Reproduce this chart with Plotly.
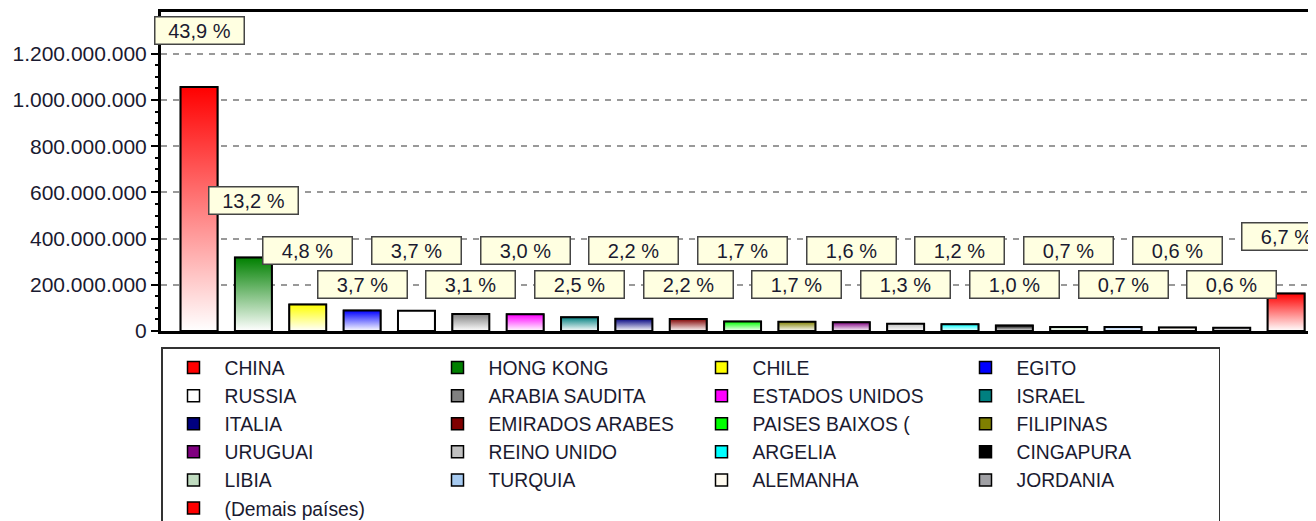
import plotly.graph_objects as go

# ---------------- data ----------------
countries = ["CHINA", "HONG KONG", "CHILE", "EGITO", "RUSSIA", "ARABIA SAUDITA",
             "ESTADOS UNIDOS", "ISRAEL", "ITALIA", "EMIRADOS ARABES", "PAISES BAIXOS (",
             "FILIPINAS", "URUGUAI", "REINO UNIDO", "ARGELIA", "CINGAPURA", "LIBIA",
             "TURQUIA", "ALEMANHA", "JORDANIA", "(Demais países)"]
values = [1056e6, 318e6, 115e6, 89e6, 88e6, 74e6, 72e6, 60e6, 53e6, 52e6, 41e6,
          40e6, 38e6, 31e6, 29e6, 24e6, 17e6, 17e6, 15e6, 14e6, 162e6]
pct_labels = ["43,9 %", "13,2 %", "4,8 %", "3,7 %", "3,7 %", "3,1 %", "3,0 %", "2,5 %",
              "2,2 %", "2,2 %", "1,7 %", "1,7 %", "1,6 %", "1,3 %", "1,2 %", "1,0 %",
              "0,7 %", "0,7 %", "0,6 %", "0,6 %", "6,7 %"]
colors = ["#FF0000", "#008000", "#FFFF00", "#0000FF", "#FFFFFF", "#808080",
          "#FF00FF", "#008080", "#000080", "#800000", "#00FF00", "#808000",
          "#800080", "#C0C0C0", "#00FFFF", "#000000", "#C0DCC0", "#A6CAF0",
          "#FFFBF0", "#A0A0A4", "#FF0000"]

FONT = "Liberation Sans, Arial, sans-serif"
BAR_W = 0.68
UPPER_ROW = 350e6
LOWER_ROW = 200e6

# the page body keeps its default 8px margin, so the figure is sized to fit
FIG_W, FIG_H = 1308, 513

fig = go.Figure()
xs = list(range(len(countries)))

# solid bars (one per country; they also provide the legend entries)
for i, (name, v, c) in enumerate(zip(countries, values, colors)):
    fig.add_trace(go.Bar(
        x=[xs[i]], y=[v], width=BAR_W, name=name,
        marker=dict(color=c, line=dict(color="black", width=1.5)),
        hoverinfo="skip"))

# vertical colour gradient drawn over each bar (same geometry, from the values)
for i, (name, v, c) in enumerate(zip(countries, values, colors)):
    x0, x1 = xs[i] - BAR_W / 2, xs[i] + BAR_W / 2
    fig.add_trace(go.Scatter(
        x=[x0, x0, x1, x1, x0], y=[0, v, v, 0, 0],
        mode="lines", fill="toself",
        fillgradient=dict(type="vertical", colorscale=[[0, "#FFFFFF"], [1, c]]),
        line=dict(color="black", width=2),
        showlegend=False, hoverinfo="skip", name=name))

# percentage labels
for i, (v, t) in enumerate(zip(values, pct_labels)):
    if i in (0, 1, len(values) - 1):
        y, ys = v, 57
    else:
        y, ys = (UPPER_ROW if i % 2 == 0 else LOWER_ROW), 0
    fig.add_annotation(x=xs[i], y=y, yshift=ys, text=t, showarrow=False,
                       font=dict(family=FONT, size=20, color="#1a1a30"),
                       bgcolor="#FFFFE1", bordercolor="#444444", borderwidth=1.5,
                       borderpad=1, width=86, height=24, align="center")

fig.update_layout(
    width=FIG_W, height=FIG_H,
    margin=dict(l=153, r=0, t=4, b=190, autoexpand=False),
    paper_bgcolor="white", plot_bgcolor="white",
    separators=",.",
    barmode="overlay",
    font=dict(family=FONT, size=20, color="#1a1a1a"),
    showlegend=True,
    legend=dict(orientation="h", x=0, xanchor="left",
                yref="container", y=1 - 339 / FIG_H, yanchor="top",
                bgcolor="white", bordercolor="#333333", borderwidth=1.5,
                itemwidth=52, entrywidth=197, traceorder="normal",
                font=dict(family=FONT, size=19.3, color="#1a1a30")),
)
fig.update_xaxes(range=[-0.7, 20.55], showticklabels=False, showgrid=False,
                 zeroline=False, showline=True, mirror=True, linewidth=3,
                 linecolor="black", ticks="", automargin=False)
fig.update_yaxes(range=[0, 1381e6], dtick=200e6, tickformat=",d", automargin=False,
                 showgrid=True, gridcolor="#999999", gridwidth=1.5, griddash="6px,6px",
                 zeroline=False, showline=True, linewidth=3, linecolor="black",
                 ticks="outside", ticklen=7, tickwidth=2, tickcolor="black",
                 minor=dict(dtick=50e6, ticks="outside", ticklen=3, tickwidth=1.5,
                            tickcolor="black", showgrid=False),
                 tickfont=dict(family=FONT, size=21, color="#1a1a30"))

fig.write_html("out.html")
